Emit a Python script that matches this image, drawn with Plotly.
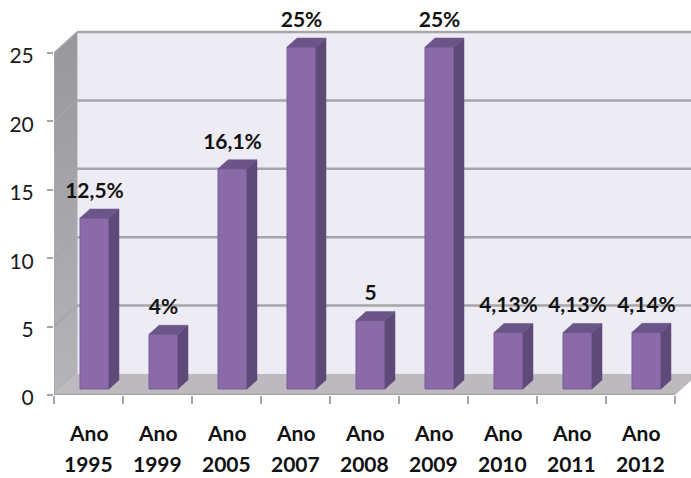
import plotly.graph_objects as go

years = ["1995", "1999", "2005", "2007", "2008", "2009", "2010", "2011", "2012"]
values = [12.5, 4, 16.1, 25, 5, 25, 4.13, 4.13, 4.14]
labels = ["12,5%", "4%", "16,1%", "25%", "5", "25%", "4,13%", "4,13%", "4,14%"]
y_ticks = [0, 5, 10, 15, 20, 25]

FONT = "Lato"
W, H = 691, 478
PX_X, PX_Y = 69.0, 13.68      # pixels per category / per unit
L, BOTTOM = 54, 83            # plot margins
DX, DY = 23 / PX_X, 21 / PX_Y # wall depth in axis units
BDX, BDY = 10 / PX_X, 9 / PX_Y  # bar depth in axis units
BW = 29 / PX_X
BX, BY = 6 / PX_X, 6 / PX_Y   # bar offset from the front plane
n = len(years)
xmax = (W - L) / PX_X
ymax = (H - BOTTOM) / PX_Y


def poly(pts):
    return "M" + " L".join(f"{a},{b}" for a, b in pts) + " Z"


shapes = [
    dict(type="path", layer="below", xref="x", yref="y", line_width=0, fillcolor="#EDEBF3",
         path=poly([(DX, DY), (n + DX, DY), (n + DX, 25 + DY), (DX, 25 + DY)])),
    dict(type="path", layer="below", xref="x", yref="y", line_width=0, fillcolor="#BDB9BE",
         path=poly([(0, 0), (n, 0), (n + DX, DY), (DX, DY)])),
    dict(type="line", layer="below", xref="x", yref="y", x0=DX, x1=DX, y0=DY, y1=25 + DY,
         line=dict(color="#C4C3C8", width=1.5)),
]
for v in y_ticks[1:]:
    shapes.append(dict(type="line", layer="below", xref="x", yref="y", x0=DX, x1=n + DX,
                       y0=v + DY, y1=v + DY, line=dict(color="#A6A6A9", width=2.5)))

centers = [i + 0.5 + BX for i in range(n)]
fig = go.Figure()
fig.add_bar(x=centers, y=values, base=BY, width=BW,
            marker=dict(color="#8A6BA8", line=dict(color="#7B5B9E", width=1)),
            hoverinfo="skip", showlegend=False)

# left side wall with its soft vertical shading
fig.add_scatter(x=[0, DX, DX, 0, 0], y=[0, DY, 25 + DY, 25, 0], mode="lines", fill="toself",
                line=dict(width=0),
                fillgradient=dict(type="vertical", colorscale=[[0, "#B5B4B7"], [1, "#98979B"]]),
                hoverinfo="skip", showlegend=False)
for v in y_ticks[1:]:
    fig.add_scatter(x=[0, DX], y=[v, v + DY], mode="lines", line=dict(color="#A6A6A9", width=1.5),
                    hoverinfo="skip", showlegend=False)

for c, v in zip(centers, values):
    l, r = c - BW / 2, c + BW / 2
    top = v + BY
    # side face
    fig.add_scatter(x=[r, r + BDX, r + BDX, r, r], y=[BY, BY + BDY, top + BDY, top, BY],
                    mode="lines", fill="toself", fillcolor="#5E4A78",
                    line=dict(color="#5E4A78", width=0.5), hoverinfo="skip", showlegend=False)
    # top face
    fig.add_scatter(x=[l, r, r + BDX, l + BDX, l], y=[top, top, top + BDY, top + BDY, top],
                    mode="lines", fill="toself", fillcolor="#6B5488",
                    line=dict(color="#6B5488", width=0.5), hoverinfo="skip", showlegend=False)

fig.add_scatter(x=centers, y=[v + BY + BDY + 16.5 / PX_Y for v in values], mode="text",
                text=labels, textposition="middle center", cliponaxis=False,
                textfont=dict(family=FONT, size=21, color="#111111", weight="bold"),
                hoverinfo="skip", showlegend=False)

annotations = []
for i, yr in enumerate(years):
    annotations.append(dict(x=i + 0.5, y=0, xref="x", yref="paper", yshift=-37, text="Ano", yanchor="middle",
                            showarrow=False, font=dict(family=FONT, size=21, color="#111111", weight="bold")))
    annotations.append(dict(x=i + 0.5, y=0, xref="x", yref="paper", yshift=-68.5, text=yr, yanchor="middle",
                            showarrow=False, font=dict(family=FONT, size=21, color="#111111", weight="bold")))

fig.update_layout(
    width=W, height=H, margin=dict(l=L, r=0, t=0, b=BOTTOM, pad=0),
    paper_bgcolor="white", plot_bgcolor="white", showlegend=False,
    shapes=shapes, annotations=annotations,
    xaxis=dict(range=[0, xmax], tickvals=list(range(n + 1)), ticktext=[""] * (n + 1),
               ticks="outside", ticklen=8, tickwidth=1.5, tickcolor="#A6A6A9",
               showgrid=False, zeroline=False, showline=False),
    yaxis=dict(range=[0, ymax], tickvals=y_ticks, ticks="outside", ticklen=6, tickwidth=2,
               tickcolor="#A6A6A9", showgrid=False, zeroline=False, showline=False,
               ticklabelstandoff=9, ticklabelshift=3,
               tickfont=dict(family=FONT, size=21, color="#1A1A1A")),
)
# front edges of floor and side wall
fig.add_scatter(x=[0, n], y=[0, 0], mode="lines", line=dict(color="#A6A6A9", width=2.5),
                cliponaxis=False, hoverinfo="skip", showlegend=False)
fig.add_scatter(x=[0, 0], y=[0, 25], mode="lines", line=dict(color="#A6A6A9", width=1.5),
                cliponaxis=False, hoverinfo="skip", showlegend=False)
fig.write_html("out.html", config={"displayModeBar": False},
               post_script="document.body.style.margin='0';")
